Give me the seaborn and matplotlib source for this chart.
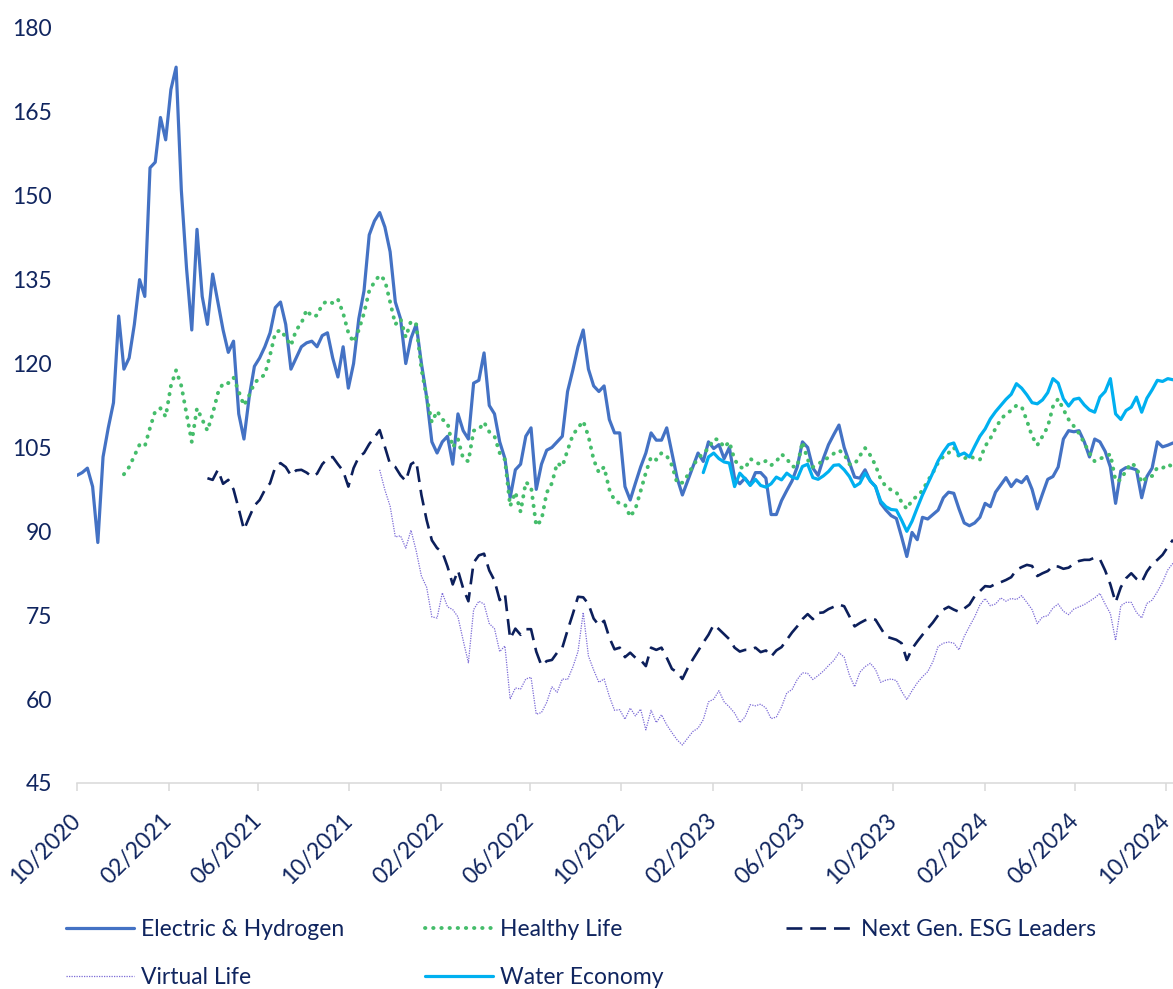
import matplotlib
matplotlib.use("Agg")
import matplotlib.pyplot as plt
import matplotlib.dates as mdates
import pandas as pd
import seaborn as sns

sns.set_theme(style="white")
plt.rcParams["font.family"] = ["Lato", "DejaVu Sans"]

TEXT_COLOR = "#10255F"
AXIS_GREY = "#D9D9D9"
FONT_SIZE = 16.5

# Weekly index levels (each basket starts near 100)
eh_start = "2020-10-01"
eh_values = [
    100.0, 100.5, 101.3, 98.0, 88.0, 103.3, 108.5, 113.0, 128.5, 119.0,
    121.0, 127.0, 135.0, 132.0, 155.0, 156.0, 164.0, 160.0, 169.0, 173.0,
    151.0, 137.0, 126.0, 144.0, 132.0, 127.0, 136.0, 131.0, 126.0, 122.0,
    124.0, 111.0, 106.5, 114.0, 119.5, 121.0, 123.0, 125.5, 130.0, 131.0,
    127.0, 119.0, 121.0, 123.0, 123.7, 124.0, 123.0, 125.0, 125.5, 121.0,
    117.6, 123.0, 115.6, 120.0, 128.0, 133.0, 143.0, 145.5, 147.0, 144.4,
    140.0, 131.0, 128.0, 120.0, 124.5, 127.0, 120.0, 114.0, 106.0, 104.0,
    106.0, 107.0, 102.0, 111.0, 108.0, 106.5, 116.5, 117.0, 121.9, 112.5,
    111.0, 106.0, 103.0, 96.0, 101.0, 102.0, 107.0, 108.5, 97.5, 102.0,
    104.5, 105.0, 106.0, 107.0, 115.0, 118.8, 123.0, 126.0, 119.0, 116.0,
    115.0, 116.0, 110.0, 107.6, 107.6, 98.0, 95.6, 98.6, 101.5, 104.0,
    107.6, 106.3, 106.3, 108.5, 104.0, 99.5, 96.5, 99.0, 101.5, 104.0,
    102.5, 106.0, 104.8, 105.5, 103.0, 105.0, 99.5, 98.5, 99.5, 98.3,
    100.5, 100.5, 99.5, 93.0, 93.0, 95.5, 97.3, 99.0, 101.5, 106.0,
    105.0, 101.3, 100.0, 103.0, 105.5, 107.3, 109.0, 105.0, 102.3, 99.7,
    99.5, 101.0, 99.0, 98.0, 95.0, 93.8, 92.8, 92.3, 89.0, 85.5,
    89.8, 88.5, 92.5, 92.2, 93.0, 93.8, 96.0, 97.0, 96.8, 94.0,
    91.5, 91.0, 91.5, 92.5, 95.0, 94.4, 97.0, 98.3, 99.6, 98.0,
    99.2, 98.7, 99.8, 97.5, 94.0, 96.7, 99.3, 99.8, 101.5, 106.5,
    108.0, 107.8, 108.0, 106.0, 103.3, 106.5, 106.0, 104.3, 101.5, 95.0,
    100.8, 101.4, 101.3, 101.0, 96.0, 99.8, 101.3, 106.0, 105.1, 105.4, 105.8,
]

hl_start = "2020-12-03"
hl_values = [
    100.2,
    101.5, 103.5, 105.5, 105.2, 108.5, 111.5, 112.0, 110.5, 116.0, 118.8,
    116.0, 111.0, 106.0, 112.0, 110.0, 108.0, 111.0, 114.7, 116.5, 116.5,
    117.5, 115.0, 112.5, 114.3, 116.5, 117.4, 118.0, 121.5, 125.5, 126.0,
    124.7, 123.2, 126.0, 127.2, 129.6, 128.4, 128.6, 130.6, 131.2, 130.8,
    131.5, 129.0, 125.5, 123.8, 126.0, 129.0, 133.0, 134.6, 135.8, 134.9,
    131.0, 127.0, 128.0, 124.7, 127.6, 127.0, 119.0, 114.0, 109.5, 111.5,
    110.0, 109.4, 105.0, 106.5, 103.0, 102.5, 108.0, 108.2, 109.5, 107.8,
    107.0, 104.0, 102.8, 94.5, 97.0, 93.5, 98.8, 98.0, 91.0, 92.0,
    96.9, 98.6, 102.2, 101.6, 104.5, 107.2, 108.5, 109.7, 107.0, 102.8,
    100.5, 101.5, 97.5, 95.5, 95.0, 94.8, 92.6, 94.0, 97.2, 100.5,
    103.3, 102.8, 104.0, 103.5, 101.8, 98.6, 98.7, 100.0, 101.7, 103.0,
    104.0, 104.8, 106.5, 106.4, 105.0, 106.0, 102.8, 101.5, 101.2, 103.0,
    102.3, 102.0, 102.6, 101.8, 102.5, 103.8, 103.0, 101.6, 101.5, 106.0,
    102.8, 101.5, 102.0, 102.7, 103.2, 103.9, 104.5, 103.8, 102.0, 102.0,
    103.5, 104.9, 103.6, 101.8, 99.3, 98.0, 97.4, 97.0, 95.2, 94.0,
    95.6, 96.3, 97.3, 99.0, 100.5, 102.3, 103.4, 104.0, 105.0, 103.4,
    103.0, 103.5, 103.0, 102.8, 105.2, 106.6, 108.4, 110.0, 111.0, 111.6,
    112.5, 112.3, 109.8, 107.0, 105.4, 107.0, 108.7, 112.3, 113.7, 111.8,
    110.0, 108.8, 107.5, 105.8, 104.0, 102.5, 103.0, 103.3, 103.8, 99.0,
    99.2, 100.9, 102.2, 101.5, 98.7, 99.7, 99.9, 101.4, 101.3, 102.0, 101.5,
]

ng_start = "2021-03-25"
ng_values = [
    99.5, 99.2, 101.0, 98.5, 99.2,
    97.5, 94.0, 90.3, 92.5, 94.6, 95.6, 97.4, 98.6, 101.5, 102.2,
    101.5, 100.0, 100.9, 101.0, 100.5, 99.8, 100.3, 102.0, 103.0, 103.3,
    102.0, 100.8, 98.0, 101.3, 103.3, 104.0, 105.6, 106.8, 108.1, 105.1,
    102.0, 101.5, 100.0, 99.0, 102.0, 102.6, 96.5, 92.0, 88.4, 87.0,
    86.3, 83.7, 80.5, 83.0, 79.8, 77.5, 84.4, 85.7, 86.0, 83.0,
    81.2, 77.7, 78.8, 70.8, 72.6, 71.5, 72.5, 72.5, 68.5, 66.0,
    66.8, 67.0, 68.3, 69.2, 72.3, 75.2, 78.3, 78.2, 77.0, 74.4,
    73.2, 74.0, 71.0, 68.9, 69.2, 67.5, 68.3, 67.4, 67.0, 65.9,
    69.2, 68.8, 69.2, 67.4, 65.4, 64.8, 63.6, 65.5, 67.1, 68.6,
    70.1, 71.5, 73.3, 72.5, 71.6, 70.7, 69.2, 68.5, 68.8, 68.8,
    69.2, 68.4, 68.7, 67.6, 68.7, 69.3, 70.6, 71.9, 73.0, 74.3,
    75.2, 74.3, 75.4, 75.5, 76.1, 76.5, 76.9, 76.6, 74.8, 73.0,
    73.6, 74.1, 74.4, 74.2, 72.7, 71.2, 70.9, 70.6, 70.0, 67.0,
    69.0, 70.3, 71.5, 72.6, 73.7, 75.0, 76.0, 76.5, 76.0, 75.6,
    76.2, 76.9, 78.4, 79.3, 80.2, 80.1, 80.6, 80.9, 81.3, 81.8,
    83.1, 83.6, 84.0, 83.8, 82.0, 82.5, 82.9, 83.8, 83.7, 83.3,
    83.5, 84.2, 84.7, 84.9, 84.9, 85.3, 85.0, 83.0, 80.5, 77.3,
    80.0, 81.6, 82.5, 81.5, 80.9, 82.8, 84.1, 84.9, 85.8, 87.2, 88.5,
]

vl_start = "2021-11-11"
vl_values = [
    101.0, 97.4,
    94.5, 89.0, 89.2, 87.0, 90.2, 86.5, 82.0, 80.0, 74.7, 74.5,
    79.0, 76.5, 76.0, 74.7, 70.5, 66.5, 76.0, 77.5, 77.0, 73.5,
    72.6, 68.5, 69.5, 60.0, 62.0, 61.8, 63.6, 63.9, 57.3, 57.6,
    59.4, 62.2, 61.2, 63.6, 63.5, 65.7, 68.5, 75.5, 67.7, 65.2,
    63.0, 63.6, 60.5, 58.0, 58.1, 56.4, 58.4, 57.0, 58.2, 54.5,
    58.0, 55.8, 57.2, 55.4, 54.0, 52.7, 51.8, 53.0, 54.2, 54.8,
    56.3, 59.5, 60.0, 61.5, 59.5, 58.6, 57.5, 55.8, 56.8, 59.0,
    58.8, 59.1, 58.4, 56.5, 56.8, 58.6, 61.1, 61.7, 63.5, 64.7,
    64.6, 63.5, 64.2, 65.0, 66.0, 66.9, 68.3, 67.5, 64.3, 62.2,
    64.8, 65.8, 66.4, 65.3, 63.0, 63.4, 63.6, 63.3, 61.4, 59.9,
    61.5, 62.9, 64.0, 64.9, 66.7, 69.4, 70.0, 70.2, 70.0, 68.8,
    71.2, 73.0, 74.7, 76.8, 78.0, 76.7, 77.0, 78.1, 77.5, 78.0,
    77.8, 78.5, 77.3, 76.0, 73.5, 74.7, 74.9, 76.3, 77.0, 75.7,
    75.1, 76.1, 76.5, 76.9, 77.5, 78.1, 78.9, 77.0, 75.3, 70.5,
    76.7, 77.3, 77.3, 75.5, 74.5, 77.1, 77.7, 79.2, 80.9, 83.1, 84.3,
]

we_start = "2023-01-19"
we_values = [
    100.5, 103.3, 104.0, 103.0, 102.4, 102.2, 98.0, 100.4, 99.4, 98.2,
    99.3, 98.2, 97.9, 98.5, 99.7, 99.2, 100.4, 99.7, 99.4, 101.6,
    102.0, 99.6, 99.3, 99.9, 100.7, 101.8, 101.9, 101.0, 99.8, 98.0,
    98.6, 100.4, 99.0, 98.0, 95.4, 94.4, 93.9, 93.8, 92.0, 90.0,
    91.8, 94.2, 96.5, 98.5, 100.5, 102.6, 104.2, 105.5, 105.8, 103.6,
    104.0, 103.3, 105.2, 107.0, 108.3, 110.1, 111.4, 112.5, 113.6, 114.5,
    116.4, 115.6, 114.4, 113.0, 112.8, 113.5, 114.8, 117.3, 116.5, 113.7,
    112.4, 113.6, 113.8, 112.6, 111.7, 111.3, 114.0, 115.0, 117.3, 111.0,
    110.0, 111.6, 112.2, 114.0, 111.3, 113.8, 115.3, 117.0, 116.8, 117.3, 117.1,
]

series = [
    ("Electric & Hydrogen", eh_start, eh_values),
    ("Healthy Life", hl_start, hl_values),
    ("Next Gen. ESG Leaders", ng_start, ng_values),
    ("Virtual Life", vl_start, vl_values),
    ("Water Economy", we_start, we_values),
]

STYLES = {
    "Electric & Hydrogen": dict(color="#4472C4", linewidth=2.3, linestyle="-"),
    "Healthy Life": dict(color="#45BD6B", linewidth=2.8, linestyle=(0, (0.1, 2.0)),
                         dash_capstyle="round"),
    "Next Gen. ESG Leaders": dict(color="#0C1F5B", linewidth=1.9, linestyle=(0, (6, 3))),
    "Virtual Life": dict(color="#7B6AD6", linewidth=0.9, linestyle=(0, (1, 1))),
    "Water Economy": dict(color="#00B0F0", linewidth=2.3, linestyle="-"),
}

frames = []
for name, start, values in series:
    frames.append(pd.DataFrame({
        "date": pd.date_range(start, periods=len(values), freq="7D"),
        "level": values,
        "basket": name,
    }))
df = pd.concat(frames, ignore_index=True)

fig = plt.figure(figsize=(11.73, 9.89), dpi=100)
ax = fig.add_axes([0.0656, 0.2083, 0.9344, 0.7634])

for name, _, _ in series:
    sns.lineplot(
        data=df[df["basket"] == name],
        x="date",
        y="level",
        ax=ax,
        label=name,
        estimator=None,
        legend=False,
        **STYLES[name],
    )

ax.set_xlim(pd.Timestamp("2020-10-01"), df["date"].max())
ax.set_ylim(45, 180)
ax.set_yticks(range(45, 181, 15))
ax.xaxis.set_major_locator(mdates.MonthLocator(bymonth=[2, 6, 10]))
ax.xaxis.set_major_formatter(mdates.DateFormatter("%m/%Y"))
ax.set_xlabel("")
ax.set_ylabel("")

for side in ["left", "top", "right"]:
    ax.spines[side].set_visible(False)
ax.spines["bottom"].set_color(AXIS_GREY)
ax.spines["bottom"].set_linewidth(1.1)

ax.tick_params(axis="y", length=0, pad=18, labelsize=FONT_SIZE, labelcolor=TEXT_COLOR)
ax.tick_params(axis="x", bottom=True, length=6, width=1.1, color=AXIS_GREY,
               direction="out", pad=19, labelsize=FONT_SIZE, labelcolor=TEXT_COLOR)
for label in ax.get_xticklabels():
    label.set_rotation(45)
    label.set_ha("right")
    label.set_va("center")
    label.set_rotation_mode("anchor")

handles, labels = ax.get_legend_handles_labels()
lookup = dict(zip(labels, handles))
columns = [
    (["Electric & Hydrogen", "Virtual Life"], 0.0563),
    (["Healthy Life", "Water Economy"], 0.3623),
    (["Next Gen. ESG Leaders"], 0.6701),
]
for names, x in columns:
    fig.legend(
        [lookup[n] for n in names], names,
        loc="upper left", bbox_to_anchor=(x, 0.0705),
        frameon=False, fontsize=FONT_SIZE, labelcolor=TEXT_COLOR,
        handlelength=2.97, handletextpad=0.3, labelspacing=1.15,
        borderpad=0, borderaxespad=0,
    )

fig.savefig("out.png", dpi=100)
